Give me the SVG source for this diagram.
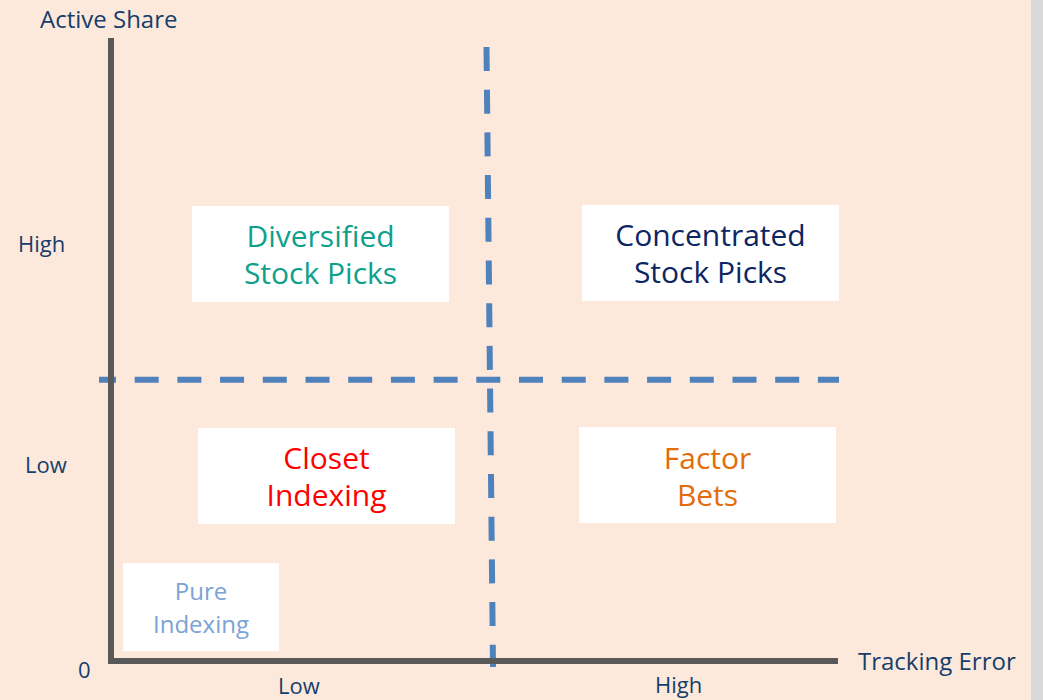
<svg xmlns="http://www.w3.org/2000/svg" width="1043" height="700" viewBox="0 0 1043 700">
<style>
.lbl{font-family:"Open Sans","Noto Sans",sans-serif;fill:#153E6B}
.box{fill:#FFFFFF}
.bt{font-family:"Open Sans","Noto Sans",sans-serif;font-size:30px;text-anchor:middle}
.dash{stroke:#4F81BD;stroke-width:6;fill:none;stroke-dasharray:24 18.7}
.axis{stroke:#595959;stroke-width:6;fill:none}
</style>
<rect x="0" y="0" width="1043" height="700" fill="#FDE9DB"/>
<rect x="1031" y="0" width="12" height="700" fill="#D9D9D9"/>
<g id="connectors">
<line class="dash" x1="99" y1="379.7" x2="839" y2="379.7" stroke-dashoffset="7"/>
<line class="dash" x1="486.5" y1="47" x2="493" y2="667"/>
<line class="axis" x1="111" y1="38" x2="111" y2="664"/>
<line class="axis" x1="108" y1="661" x2="838" y2="661"/>
</g>
<g id="labels">
<text class="lbl" x="40" y="28" font-size="24">Active Share</text>
<text class="lbl" x="18" y="252" font-size="22">High</text>
<text class="lbl" x="25" y="473" font-size="22">Low</text>
<text class="lbl" x="78" y="678" font-size="22">0</text>
<text class="lbl" x="278" y="694" font-size="22">Low</text>
<text class="lbl" x="655" y="693" font-size="22">High</text>
<text class="lbl" x="858" y="670" font-size="24">Tracking Error</text>
</g>
<g id="diversified">
<rect class="box" x="192" y="206" width="257" height="96"/>
<text class="bt" fill="#0FA08C"><tspan x="320.5" y="247">Diversified</tspan><tspan x="320.5" y="284">Stock Picks</tspan></text>
</g>
<g id="concentrated">
<rect class="box" x="582" y="205" width="257" height="96"/>
<text class="bt" fill="#0C2563"><tspan x="710.5" y="246">Concentrated</tspan><tspan x="710.5" y="283">Stock Picks</tspan></text>
</g>
<g id="closet">
<rect class="box" x="198" y="428" width="257" height="96"/>
<text class="bt" fill="#FF0000"><tspan x="326.5" y="469">Closet</tspan><tspan x="326.5" y="506">Indexing</tspan></text>
</g>
<g id="factor">
<rect class="box" x="579" y="427" width="257" height="96"/>
<text class="bt" fill="#E46C0A"><tspan x="707.5" y="469">Factor</tspan><tspan x="707.5" y="506">Bets</tspan></text>
</g>
<g id="pure">
<rect class="box" x="123" y="563" width="156" height="88"/>
<text class="bt" fill="#7BA3D4" style="font-size:24px"><tspan x="201" y="600">Pure</tspan><tspan x="201" y="633">Indexing</tspan></text>
</g>
</svg>
